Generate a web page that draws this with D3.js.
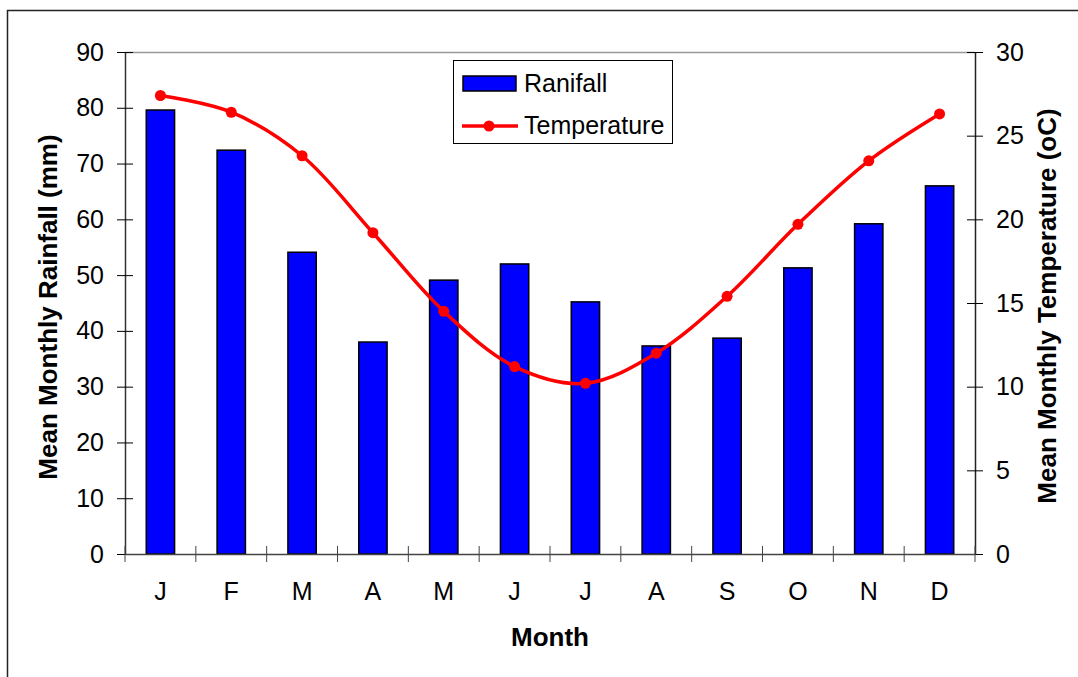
<!DOCTYPE html>
<html>
<head>
<meta charset="utf-8">
<script src="https://cdn.jsdelivr.net/npm/d3@7"></script>
<style>
body { margin: 0; background: #fff; }
text { font-family: "Liberation Sans", Arial, sans-serif; }
</style>
</head>
<body>
<script>
// chart data
var months = ["J", "F", "M", "A", "M", "J", "J", "A", "S", "O", "N", "D"];
var rainfall = [79.6, 72.4, 54.1, 38.0, 49.1, 52.0, 45.2, 37.3, 38.7, 51.3, 59.2, 66.0];
var temperature = [27.4, 26.4, 23.8, 19.2, 14.5, 11.2, 10.2, 12.0, 15.4, 19.7, 23.5, 26.3];
var rainTicks = [0, 10, 20, 30, 40, 50, 60, 70, 80, 90];
var tempTicks = [0, 5, 10, 15, 20, 25, 30];

var w = 1078;
var h = 677;
// plot area edges (note: "top" is taken by window.top)
var pLeft = 125, pRight = 975, pTop = 52, pBottom = 554;

var svg = d3.select("body")
			.append("svg")
			.attr("width", w)
			.attr("height", h);

// outer chart border
svg.append("rect")
	.attr("x", 7.5).attr("y", 10.5)
	.attr("width", w).attr("height", h)
	.attr("fill", "none")
	.attr("stroke", "#222")
	.attr("stroke-width", 1.5);

var x = d3.scaleBand()
	.domain(d3.range(months.length))
	.range([pLeft, pRight])
	.padding(0);

var yL = d3.scaleLinear().domain([0, 90]).range([pBottom, pTop]);
var yR = d3.scaleLinear().domain([0, 30]).range([pBottom, pTop]);

// plot area top border
svg.append("line")
	.attr("x1", pLeft).attr("x2", pRight)
	.attr("y1", pTop + 0.5).attr("y2", pTop + 0.5)
	.attr("stroke", "#999").attr("stroke-width", 1.5);

// bars
var barW = x.bandwidth() * 0.4;
svg.selectAll("rect.bar")
	.data(rainfall)
	.enter()
	.append("rect")
		.attr("class", "bar")
		.attr("x", function(d, i){ return x(i) + (x.bandwidth() - barW) / 2; })
		.attr("y", function(d){ return yL(d); })
		.attr("width", barW)
		.attr("height", function(d){ return pBottom - yL(d); })
		.attr("fill", "#0000ff")
		.attr("stroke", "#000")
		.attr("stroke-width", 1.5);

// axes
var axisLeft = d3.axisLeft(yL).tickValues(rainTicks).tickSizeInner(8).tickSizeOuter(0).tickPadding(13);
var gL = svg.append("g").attr("transform", "translate(" + pLeft + ",0)").call(axisLeft);
gL.selectAll(".tick line").attr("x2", 8).attr("x1", -8);

var axisRight = d3.axisRight(yR).tickValues(tempTicks).tickSizeInner(8).tickSizeOuter(0).tickPadding(13);
var gR = svg.append("g").attr("transform", "translate(" + pRight + ",0)").call(axisRight);
gR.selectAll(".tick line").attr("x1", -8).attr("x2", 8);

var axisBottom = d3.axisBottom(x).tickFormat(function(i){ return months[i]; }).tickSize(0).tickPadding(28);
var gB = svg.append("g").attr("transform", "translate(0," + pBottom + ")").call(axisBottom);
gB.select(".domain").attr("stroke", "#444");
// category boundary ticks
gB.selectAll("line.sep")
	.data(d3.range(months.length + 1))
	.enter()
	.append("line")
		.attr("class", "sep")
		.attr("x1", function(i){ return pLeft + i * x.step(); })
		.attr("x2", function(i){ return pLeft + i * x.step(); })
		.attr("y1", -8).attr("y2", 8)
		.attr("stroke", "#444");

[gL, gR, gB].forEach(function(g){
	g.selectAll("text")
		.attr("font-family", "Liberation Sans, Arial, sans-serif")
		.attr("font-size", 25)
		.attr("fill", "#000");
	g.selectAll(".domain").attr("stroke-width", 1.5);
});
gL.select(".domain").attr("stroke", "#333");
gR.select(".domain").attr("stroke", "#222");

// temperature line
var line = d3.line()
	.x(function(d, i){ return x(i) + x.bandwidth() / 2; })
	.y(function(d){ return yR(d); })
	.curve(d3.curveCatmullRom.alpha(0.5));

svg.append("path")
	.datum(temperature)
	.attr("d", line)
	.attr("fill", "none")
	.attr("stroke", "#ff0000")
	.attr("stroke-width", 3.5);

svg.selectAll("circle.pt")
	.data(temperature)
	.enter()
	.append("circle")
		.attr("class", "pt")
		.attr("cx", function(d, i){ return x(i) + x.bandwidth() / 2; })
		.attr("cy", function(d){ return yR(d); })
		.attr("r", 5.5)
		.attr("fill", "#ff0000");

// axis titles
svg.append("text")
	.text("Month")
	.attr("x", (pLeft + pRight) / 2).attr("y", 646)
	.attr("text-anchor", "middle")
	.attr("font-size", 26).attr("font-weight", "bold");

svg.append("text")
	.text("Mean Monthly Rainfall (mm)")
	.attr("transform", "translate(57,307) rotate(-90)")
	.attr("text-anchor", "middle")
	.attr("font-size", 26).attr("font-weight", "bold");

svg.append("text")
	.text("Mean Monthly Temperature (oC)")
	.attr("transform", "translate(1056,306) rotate(-90)")
	.attr("text-anchor", "middle")
	.attr("font-size", 26).attr("font-weight", "bold");

// legend
var lg = svg.append("g");
lg.append("rect")
	.attr("x", 453.5).attr("y", 60.5)
	.attr("width", 219).attr("height", 83)
	.attr("fill", "#fff").attr("stroke", "#000").attr("stroke-width", 1);
lg.append("rect")
	.attr("x", 463).attr("y", 76)
	.attr("width", 53).attr("height", 15)
	.attr("fill", "#0000ff").attr("stroke", "#000").attr("stroke-width", 1.5);
lg.append("text").text("Ranifall")
	.attr("x", 524).attr("y", 92).attr("font-size", 25);
lg.append("line")
	.attr("x1", 462).attr("x2", 518).attr("y1", 126).attr("y2", 126)
	.attr("stroke", "#ff0000").attr("stroke-width", 3.5);
lg.append("circle")
	.attr("cx", 489).attr("cy", 126).attr("r", 5.5).attr("fill", "#ff0000");
lg.append("text").text("Temperature")
	.attr("x", 524).attr("y", 134).attr("font-size", 25);
</script>
</body>
</html>
